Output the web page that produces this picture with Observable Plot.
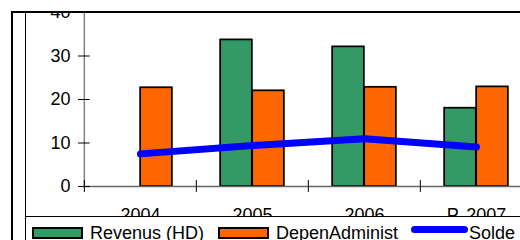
<!DOCTYPE html>
<html><head><meta charset="utf-8">
<script src="https://cdn.jsdelivr.net/npm/d3@7"></script>
<script src="https://cdn.jsdelivr.net/npm/@observablehq/plot@0.6"></script>
<style>
html,body{margin:0;padding:0;width:520px;height:240px;overflow:hidden;background:#fff;font-family:"Liberation Sans",Arial,sans-serif;}
#chart{position:absolute;left:0;top:0;width:560px;height:216px;z-index:1}
#chart svg{max-width:none !important;}
#cover{position:absolute;left:0;top:0;width:520px;height:11px;background:#fff;z-index:2}
#frame{position:absolute;left:11px;top:11px;width:700px;height:400px;border-left:2px solid #000;border-top:2px solid #000;z-index:3;pointer-events:none}
#inner{position:absolute;left:25px;top:13px;height:300px;border-left:1px solid #000;z-index:3}
#legend{position:absolute;left:26px;top:216px;width:600px;height:30px;border-top:1px solid #000;background:#fff;z-index:2;display:flex;align-items:flex-start;font-size:18px;line-height:18px;color:#000;white-space:nowrap}
.sw{width:47px;height:8px;border:2px solid #000;margin-top:9.5px;flex:none}
.ln{width:57px;height:7px;border-radius:3.5px;margin-top:9px;flex:none}
.lt{margin-top:7.4px;flex:none}
</style>
</head><body>
<div id="chart"></div>
<div id="cover"></div>
<div id="frame"></div>
<div id="inner"></div>
<div id="legend"></div>
<script>
const categories = ["2004", "2005", "2006", "P. 2007"];
const revenus = [null, 33.7, 32.1, 18.0];
const depenses = [22.7, 22.0, 22.8, 22.9];
const solde = [7.5, 9.4, 11.0, 9.1];
const yTicks = [0, 10, 20, 30, 40];
const seriesNames = ["Revenus (HD)", "DepenAdminist", "Solde"];
const colors = ["#339966", "#FF6600", "#0000FF"];

const W = 560, ML = 83, MR = 27.7, H = 216, MT = 12, MB = 30;
const step = (W - ML - MR) / categories.length;
const barW = 32;
const ppu = (H - MT - MB) / 40;
const rows = categories.map((c, i) => ({cat: c, rev: revenus[i], dep: depenses[i], solde: solde[i]}));

const chart = Plot.plot({
  width: W, height: H, marginLeft: ML, marginRight: MR, marginTop: MT, marginBottom: MB,
  style: {fontSize: "18px", fontFamily: "'Liberation Sans', Arial, sans-serif", color: "#000", background: "#fff"},
  x: {type: "band", domain: categories, paddingInner: 0, paddingOuter: 0, tickSize: 0, tickPadding: 22, label: null},
  y: {domain: [0, 40], ticks: yTicks, tickSize: 0, tickPadding: 13, label: null},
  marks: [
    Plot.barY(rows.filter(d => d.rev != null), {x: "cat", y: "rev", fill: colors[0], stroke: "#000", strokeWidth: 1.75, insetLeft: step / 2 - barW, insetRight: step / 2}),
    Plot.barY(rows, {x: "cat", y: "dep", fill: colors[1], stroke: "#000", strokeWidth: 1.75, insetLeft: step / 2, insetRight: step / 2 - barW}),
    Plot.ruleY([0], {stroke: "#666", strokeWidth: 1.5}),
    Plot.ruleX([categories[0]], {x: d => d, dx: -step / 2, stroke: "#808080", strokeWidth: 1.5}),
    Plot.ruleX(categories, {x: d => d, dx: -step / 2, y1: -6 / ppu, y2: 6 / ppu, stroke: "#000"}),
    Plot.tickY(yTicks, {y: d => d, x: () => categories[0], insetRight: step - 12, dx: -6, stroke: "#000"}),
    Plot.lineY(rows, {x: "cat", y: "solde", stroke: colors[2], strokeWidth: 7, strokeLinecap: "round", strokeLinejoin: "round"})
  ]
});
document.getElementById("chart").appendChild(chart);

const legend = document.getElementById("legend");
seriesNames.forEach((name, i) => {
  const sw = document.createElement("div");
  if (i < 2) {
    sw.className = "sw";
    sw.style.background = colors[i];
    sw.style.marginLeft = i === 0 ? "6px" : "14px";
  } else {
    sw.className = "ln";
    sw.style.background = colors[i];
    sw.style.marginLeft = "13px";
  }
  legend.appendChild(sw);
  const t = document.createElement("div");
  t.className = "lt";
  t.textContent = name;
  t.style.marginLeft = i < 2 ? "7px" : "1px";
  legend.appendChild(t);
});
</script>
</body></html>
